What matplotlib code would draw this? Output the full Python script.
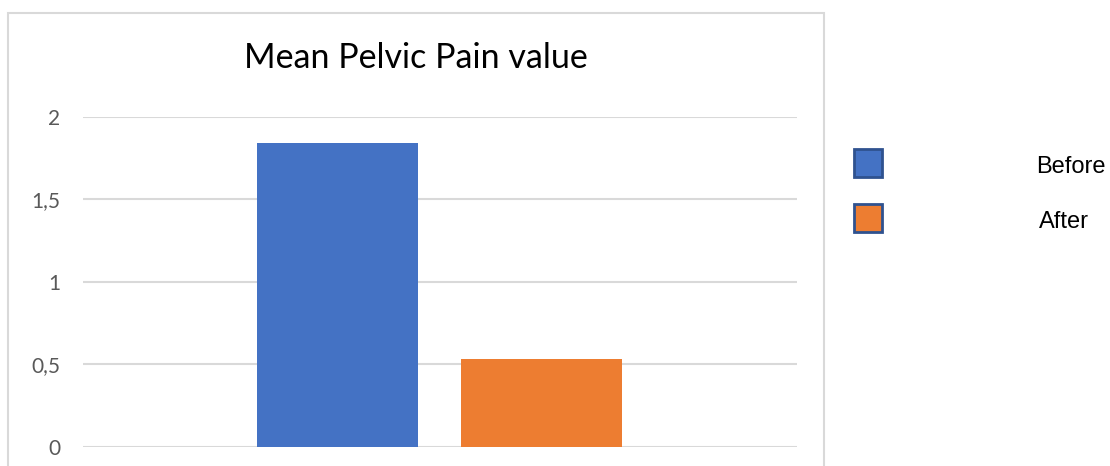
import matplotlib
matplotlib.use("Agg")
import matplotlib.pyplot as plt
from matplotlib.patches import Rectangle

categories = ["Before", "After"]
values = [1.84, 0.53]
colors = ["#4472C4", "#ED7D31"]
yticks = [0, 0.5, 1, 1.5, 2]
ytick_labels = ["0", "0,5", "1", "1,5", "2"]
title = "Mean Pelvic Pain value"

W, H = 1110, 466
fig = plt.figure(figsize=(W / 100, H / 100), dpi=100)

def fx(px):
    return px / W

def fy(py):
    return 1 - py / H

# chart border
fig.patches.append(Rectangle((fx(8), fy(470)), fx(824) - fx(8), fy(12.5) - fy(470),
                             transform=fig.transFigure, fill=False,
                             edgecolor="#D9D9D9", linewidth=1.5))

ax = fig.add_axes([fx(83), fy(446.7), fx(797) - fx(83), fy(116.7) - fy(446.7)])
x = [-0.5, 0.5]
bars = ax.bar(x, values, width=0.79, color=colors, zorder=3)
ax.set_xlim(-1.7475, 1.7525)
ax.set_ylim(0, 2)
ax.set_yticks(yticks)
ax.set_yticklabels(ytick_labels, fontfamily="Lato", fontsize=15, color="#595959")
ax.set_xticks([])
ax.tick_params(axis="y", length=0, pad=16.5)
ax.grid(axis="y", color="#D9D9D9", linewidth=1.5, zorder=0)
for s in ax.spines.values():
    s.set_visible(False)

fig.text(fx(416), fy(58), title, ha="center", va="center", fontfamily="Lato",
         fontsize=24.5, color="#000000")

# legend
legend_y = [163, 218]
text_x = [1071, 1064]
for cat, col, ly, tx in zip(categories, colors, legend_y, text_x):
    fig.patches.append(Rectangle((fx(854), fy(ly + 14)), fx(28), fy(0) - fy(28),
                                 transform=fig.transFigure, facecolor=col,
                                 edgecolor="#2F528F", linewidth=2))
    fig.text(fx(tx), fy(ly + 4), cat, ha="center", va="center",
             fontfamily="Liberation Sans", fontsize=17, color="#000000")

fig.savefig("out.png", dpi=100)
